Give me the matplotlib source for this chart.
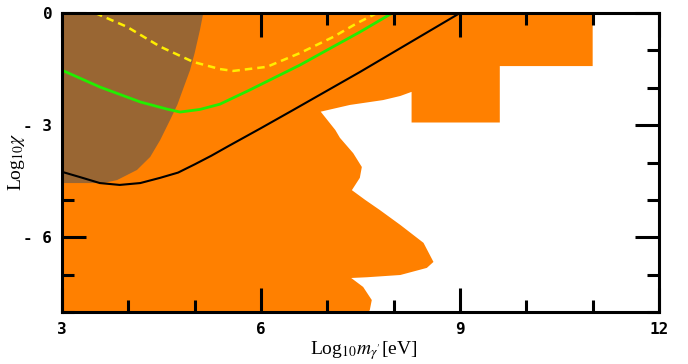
import matplotlib
matplotlib.use("Agg")
import matplotlib.pyplot as plt
from matplotlib.ticker import MultipleLocator

# ---- data ----
orange_x = [3, 11, 11, 9.6, 9.6, 8.27, 8.27, 8.10, 7.84, 7.34, 6.90,
            7.12, 7.19, 7.39, 7.52, 7.49, 7.37, 7.57, 7.79, 8.10, 8.45, 8.60,
            8.50, 8.10, 7.60, 7.36, 7.54, 7.67, 7.64, 7.62, 3]
orange_y = [0, 0, -1.42, -1.42, -2.93, -2.93, -2.11, -2.22, -2.33, -2.46, -2.64,
            -3.13, -3.34, -3.75, -4.12, -4.41, -4.74, -5.0, -5.27, -5.67, -6.15, -6.66,
            -6.82, -7.01, -7.07, -7.09, -7.33, -7.68, -7.95, -8.0, -8.0]

brown_x = [3, 5.13, 5.08, 5.0, 4.93, 4.82, 4.74, 4.63, 4.48, 4.33, 4.13, 3.83, 3.62, 3]
brown_y = [0, 0, -0.45, -1.07, -1.53, -2.06, -2.45, -2.86, -3.40, -3.85, -4.2, -4.47, -4.55, -4.55]

black_x = [3, 3.27, 3.57, 3.87, 4.18, 4.48, 4.75, 5.0, 5.25, 5.5, 6.0, 6.48, 7.49, 9]
black_y = [-4.25, -4.39, -4.55, -4.6, -4.55, -4.41, -4.27, -4.05, -3.82, -3.57, -3.08, -2.6, -1.58, 0]

green_x = [3, 3.57, 4.18, 4.58, 4.78, 5.08, 5.38, 5.83, 6.59, 7.09, 7.49, 7.98]
green_y = [-1.53, -1.98, -2.38, -2.57, -2.65, -2.58, -2.44, -2.06, -1.39, -0.90, -0.51, 0]

yellow_x = [3.50, 3.98, 4.48, 4.98, 5.38, 5.58, 6.09, 6.59, 7.09, 7.45, 7.75]
yellow_y = [0, -0.37, -0.9, -1.31, -1.5, -1.55, -1.44, -1.07, -0.64, -0.27, 0]

x_ticks = [3, 6, 9, 12]
x_ticklabels = ["3", "6", "9", "12"]
y_ticks = [0, -3, -6]
y_ticklabels = ["0", "- 3", "- 6"]

plt.rcParams["mathtext.fontset"] = "stix"

fig = plt.figure(figsize=(6.88, 3.64), dpi=100)
ax = fig.add_axes([62 / 688, 52 / 364, 597 / 688, 299 / 364])

ax.fill(orange_x, orange_y, color="#FF8000", lw=0, zorder=1)
ax.fill(brown_x, brown_y, color="#996633", lw=0, zorder=2)
ax.plot(yellow_x, yellow_y, color="#FFEE00", lw=1.8, ls=(0, (3, 2)), zorder=3)
ax.plot(green_x, green_y, color="#22EE00", lw=2.0, zorder=4)
ax.plot(black_x, black_y, color="black", lw=1.5, zorder=5)

ax.set_xlim(3, 12)
ax.set_ylim(-8, 0)
ax.set_xticks(x_ticks)
ax.set_xticklabels(x_ticklabels)
ax.set_yticks(y_ticks)
ax.set_yticklabels(y_ticklabels)
ax.xaxis.set_minor_locator(MultipleLocator(1))
ax.yaxis.set_minor_locator(MultipleLocator(1))
ax.tick_params(which="both", direction="in", top=True, right=True, width=2.2,
               labelsize=11.5, pad=7)
ax.tick_params(which="major", length=17)
ax.tick_params(which="minor", length=8.6)
for lab in ax.get_xticklabels() + ax.get_yticklabels():
    lab.set_family("DejaVu Sans Mono")
    lab.set_fontweight("bold")
for s in ax.spines.values():
    s.set_linewidth(2.2)
    s.set_zorder(10)

ax.set_xlabel(r"Log$_{10}m_{\gamma'}$[eV]", fontsize=14, family="Liberation Serif")
ax.xaxis.set_label_coords(0.505, -0.092)
ax.set_ylabel(r"Log$_{10}\chi$", fontsize=14, family="Liberation Serif")
ax.yaxis.set_label_coords(-0.058, 0.5)

fig.savefig("out.png", dpi=100)
